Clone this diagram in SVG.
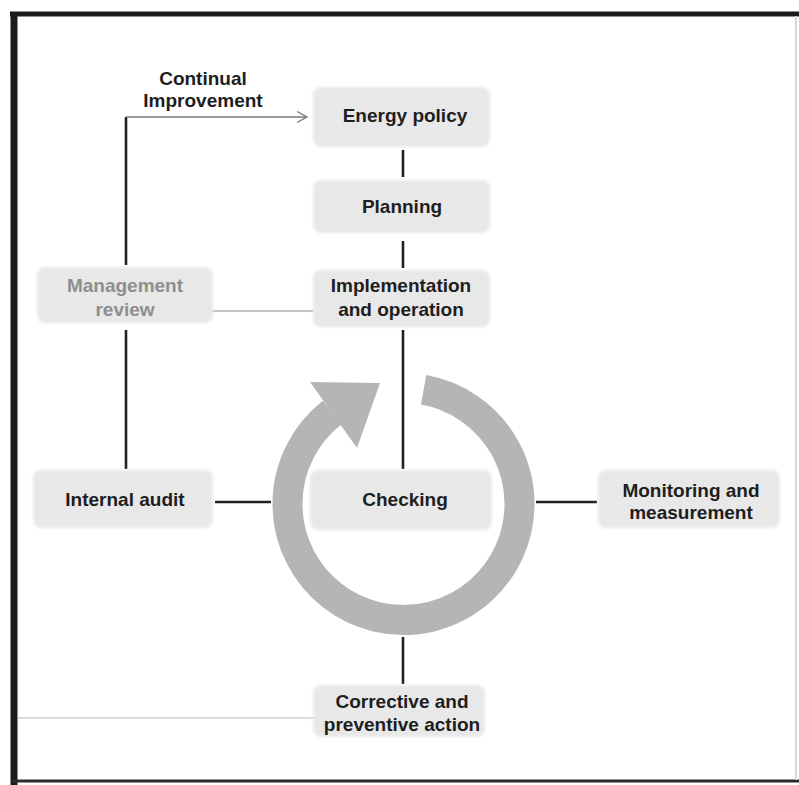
<svg xmlns="http://www.w3.org/2000/svg" width="799" height="785" viewBox="0 0 799 785">
<defs>
<filter id="soft" x="-10%" y="-20%" width="120%" height="140%"><feGaussianBlur stdDeviation="1.6"/></filter>
<style>
.box{fill:#e8e8e8;filter:url(#soft)}
.t{font-family:"Liberation Sans",Arial,sans-serif;font-weight:bold;font-size:19px;fill:#1e1e1e;text-anchor:middle}
.tg{fill:#8e8e8e}
.ln{stroke:#222;stroke-width:2.6;fill:none}
.thin{stroke:#7a7a7a;stroke-width:1.4;fill:none}
</style>
</defs>
<rect width="799" height="785" fill="#fff"/>
<g id="frame">
<line x1="10" y1="14" x2="799" y2="14" stroke="#1c1c1c" stroke-width="5"/>
<line x1="14" y1="12" x2="14" y2="785" stroke="#1c1c1c" stroke-width="7"/>
<line x1="12" y1="781" x2="799" y2="781" stroke="#2a2a2a" stroke-width="3"/>
<line x1="796" y1="16" x2="796" y2="780" stroke="#d8d8d8" stroke-width="2"/>
</g>
<g id="cycle">
<path d="M 423.6 389.8 A 116 116 0 1 1 332.1 412.6" fill="none" stroke="#b5b5b5" stroke-width="30"/>
<polygon points="310,382 380,383 357,448" fill="#b5b5b5"/>
</g>
<g id="connectors">
<line class="ln" x1="403" y1="150" x2="403" y2="177"/>
<line class="ln" x1="403" y1="241" x2="403" y2="268"/>
<line class="ln" x1="403" y1="330" x2="403" y2="469"/>
<line class="ln" x1="403" y1="637" x2="403" y2="684"/>
<line class="ln" x1="215" y1="502" x2="271" y2="502"/>
<line class="ln" x1="536" y1="502" x2="597" y2="502"/>
<line class="ln" x1="126" y1="117" x2="126" y2="265"/>
<line class="ln" x1="126" y1="330" x2="126" y2="469"/>
<line class="thin" x1="126" y1="117" x2="306" y2="117"/>
<polyline class="thin" points="297,111.5 307,117 297,122.5" stroke-width="1.8"/>
<line x1="160" y1="311" x2="314" y2="311" stroke="#b0b0b0" stroke-width="1.4"/>
<line x1="18" y1="718" x2="330" y2="718" stroke="#cfcfcf" stroke-width="1.5"/>
</g>
<text class="t" x="203" y="85">Continual</text>
<text class="t" x="203" y="107">Improvement</text>
<g id="energy-policy"><rect class="box" x="313" y="87" width="177" height="60" rx="8"/><text class="t" x="405" y="122">Energy policy</text></g>
<g id="planning"><rect class="box" x="313" y="180" width="177" height="53" rx="8"/><text class="t" x="402" y="213">Planning</text></g>
<g id="implementation"><rect class="box" x="313" y="270" width="177" height="57" rx="8"/><text class="t" x="401" y="292">Implementation</text><text class="t" x="401" y="316">and operation</text></g>
<g id="management-review"><rect class="box" x="37" y="267" width="176" height="56" rx="8"/><text class="t tg" x="125" y="292">Management</text><text class="t tg" x="125" y="316">review</text></g>
<g id="internal-audit"><rect class="box" x="33" y="470" width="180" height="58" rx="8"/><text class="t" x="125" y="506">Internal audit</text></g>
<g id="checking"><rect class="box" x="310" y="470" width="182" height="60" rx="8"/><text class="t" x="405" y="506">Checking</text></g>
<g id="monitoring"><rect class="box" x="598" y="470" width="182" height="58" rx="8"/><text class="t" x="691" y="497">Monitoring and</text><text class="t" x="691" y="519">measurement</text></g>
<g id="corrective"><rect class="box" x="313" y="685" width="172" height="52" rx="8"/><text class="t" x="402" y="708">Corrective and</text><text class="t" x="402" y="731">preventive action</text></g>
</svg>
